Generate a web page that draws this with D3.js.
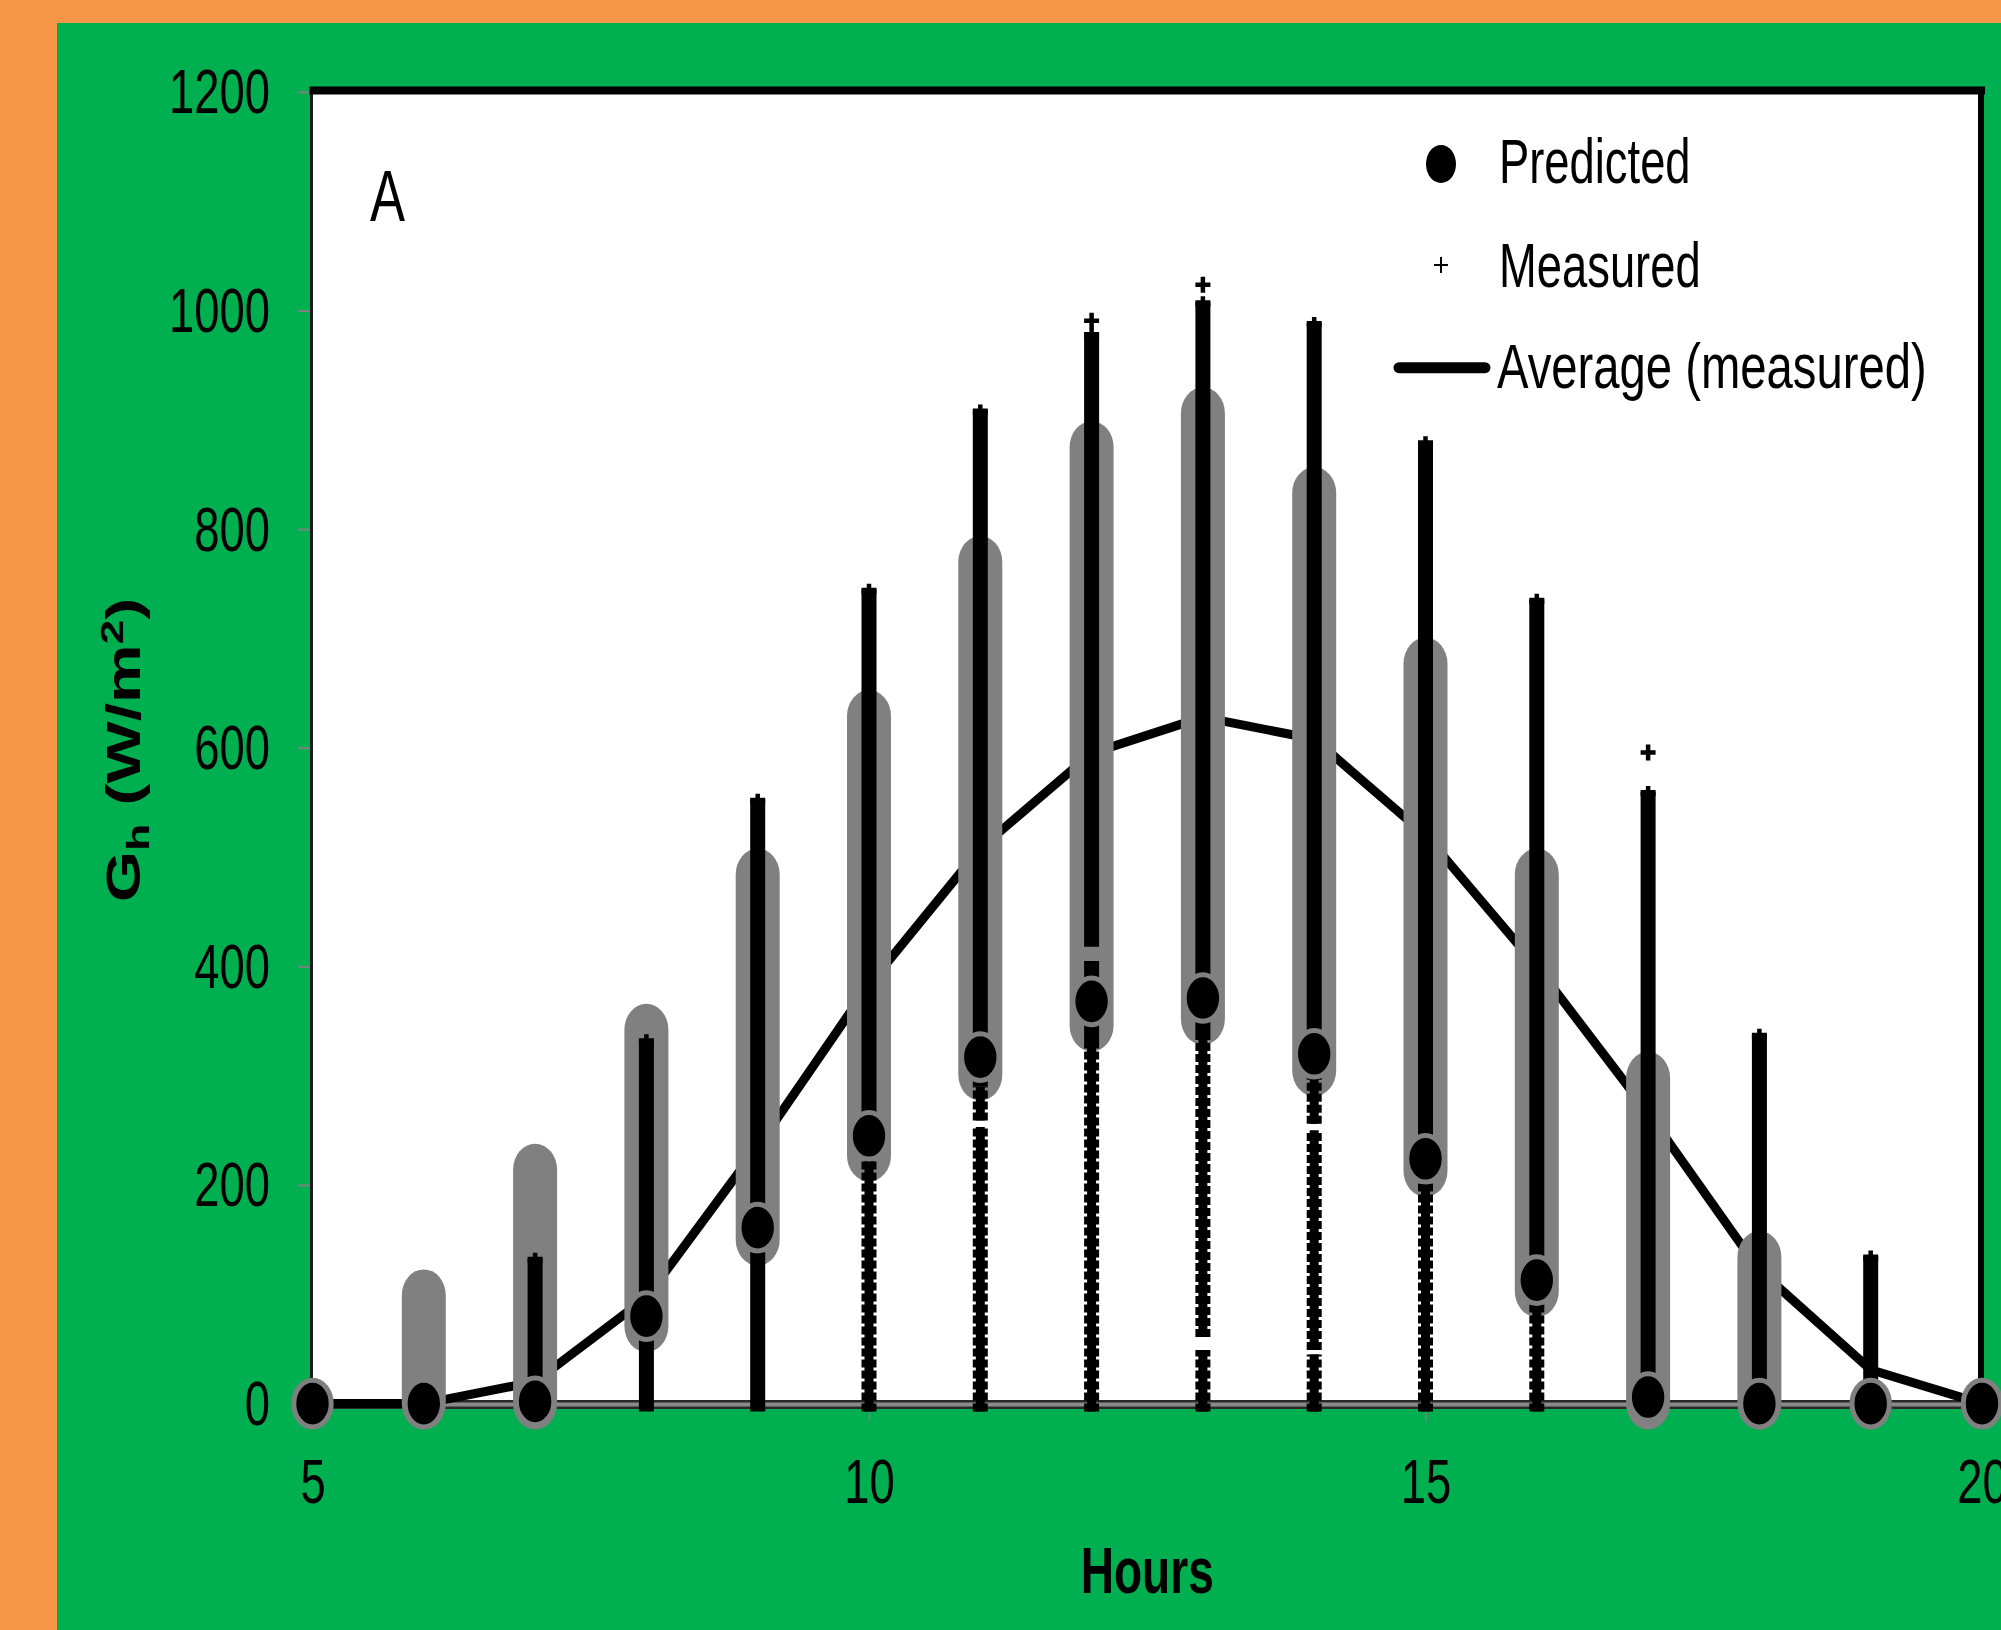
<!DOCTYPE html>
<html>
<head>
<meta charset="utf-8">
<script src="https://cdn.jsdelivr.net/npm/d3@7/dist/d3.min.js"></script>
<style>
  html, body { margin: 0; padding: 0; background: #F79646; overflow: hidden; }
  svg { display: block; }
</style>
</head>
<body>
<svg id="chart" width="2001" height="1630"></svg>
<script>
// ---------------- data ----------------
const hours = [5, 6, 7, 8, 9, 10, 11, 12, 13, 14, 15, 16, 17, 18, 19, 20];
const predicted      = [0, 0, 2, 80, 161, 245, 317, 368, 371, 320, 224, 113, 6, 0, 0, 0];
const predictedLow   = [0, 0, 0, 71, 150, 227, 301, 346, 352, 305, 213, 103, 0, 0, 0, 0];
const predictedHigh  = [0, 99, 214, 342, 484, 629, 770, 875, 906, 833, 677, 484, 298, 134, 0, 0];
const averageMeasured = [0, 0, 20, 97, 235, 383, 508, 595, 628, 608, 520, 400, 266, 122, 31, 0];
const measuredTop    = [0, 8, 138, 338, 558, 750, 914, 984, 1013, 994, 885, 741, 565, 343, 140, 0];
const measuredSparseBelow = [0, 0, 0, 0, 0, 230, 290, 330, 340, 300, 210, 100, 0, 0, 0, 0];
const outlierHours  = [12, 13, 17];
const outlierValues = [998, 1031, 603];
const gapHours = [11, 12, 13, 14, 14];
const gapLow   = [253, 405, 49, 250, 45];
const gapHigh  = [259, 418, 61, 256, 49];
const yTicks = [0, 200, 400, 600, 800, 1000, 1200];
const xTicks = [5, 10, 15, 20];
const legendLabels = ["Predicted", "Measured", "Average (measured)"];
const xTitle = "Hours";
const panelLabel = "A";

// ---------------- layout ----------------
const svg = d3.select("#chart");
const FONT = "'Liberation Sans', Arial, Helvetica, sans-serif";
const SX = 0.72; // horizontal squeeze of the original picture

const x = d3.scaleLinear().domain([5, 20]).range([312.5, 1982]);
const y = d3.scaleLinear().domain([0, 1200]).range([1403.6, 91.9]);

// backgrounds
svg.append("rect").attr("x", 0).attr("y", 0).attr("width", 2001).attr("height", 1630).attr("fill", "#F79646");
svg.append("rect").attr("x", 57).attr("y", 23).attr("width", 1944).attr("height", 1607).attr("fill", "#00AF50");
svg.append("rect").attr("x", x(5)).attr("y", y(1200)).attr("width", x(20) - x(5)).attr("height", y(0) - y(1200)).attr("fill", "#ffffff");

// frame
const frame = svg.append("g");
frame.append("line").attr("x1", x(5) - 1).attr("x2", x(5) - 1).attr("y1", y(1200) - 2).attr("y2", y(0))
  .attr("stroke", "#1a1a1a").attr("stroke-width", 3);
frame.append("line").attr("x1", x(5) - 3).attr("x2", x(20) + 3).attr("y1", y(1200) - 1.5).attr("y2", y(1200) - 1.5)
  .attr("stroke", "#000").attr("stroke-width", 8);
frame.append("line").attr("x1", x(20) - 1).attr("x2", x(20) - 1).attr("y1", y(1200) - 5).attr("y2", y(0))
  .attr("stroke", "#000").attr("stroke-width", 6);

// axes
const yAxis = svg.append("g").attr("transform", `translate(${x(5)},0)`)
  .call(d3.axisLeft(y).tickValues(yTicks).tickSize(14).tickFormat(d3.format("d")));
yAxis.select(".domain").remove();
yAxis.selectAll(".tick line").attr("stroke", "#808080").attr("stroke-width", 2);
yAxis.selectAll(".tick text")
  .attr("x", null).attr("dy", null)
  .attr("transform", `translate(-42.5,21) scale(${SX},1)`)
  .attr("text-anchor", "end")
  .attr("font-family", FONT).attr("font-size", 63).attr("fill", "#000");

const xAxis = svg.append("g").attr("transform", `translate(0,${y(0)})`)
  .call(d3.axisBottom(x).tickValues(xTicks).tickSize(18).tickFormat(d3.format("d")));
xAxis.select(".domain").remove();
xAxis.selectAll(".tick line").attr("stroke", "#808080").attr("stroke-width", 1.5);
xAxis.selectAll(".tick text")
  .attr("y", null).attr("dy", null)
  .attr("transform", `translate(0,99.5) scale(${SX},1)`)
  .attr("text-anchor", "middle")
  .attr("font-family", FONT).attr("font-size", 63).attr("fill", "#000");

// bottom axis line (double line look)
frame.append("line").attr("x1", x(5) - 3).attr("x2", x(20) + 3).attr("y1", y(0) + 1).attr("y2", y(0) + 1)
  .attr("stroke", "#2a2a2a").attr("stroke-width", 9);
frame.append("line").attr("x1", x(5) - 3).attr("x2", x(20) + 3).attr("y1", y(0) + 1).attr("y2", y(0) + 1)
  .attr("stroke", "#8a8a8a").attr("stroke-width", 4);
svg.node().appendChild(frame.node());

// average line
const avgData = hours.map((h, i) => [h, averageMeasured[i]]);
svg.append("path").datum(avgData)
  .attr("d", d3.line().x(d => x(d[0])).y(d => y(d[1])))
  .attr("fill", "none").attr("stroke", "#000").attr("stroke-width", 9)
  .attr("stroke-linejoin", "round").attr("stroke-linecap", "round");

// gray predicted ranges
const CAPW = 22, CAPH = 26;
svg.append("g").selectAll("rect").data(hours.map((h, i) => ({ h, lo: predictedLow[i], hi: predictedHigh[i] })).filter(d => d.hi > d.lo))
  .join("rect")
  .attr("x", d => x(d.h) - CAPW).attr("width", CAPW * 2)
  .attr("y", d => y(d.hi) - CAPH).attr("height", d => y(d.lo) - y(d.hi) + CAPH * 2)
  .attr("rx", CAPW).attr("ry", CAPH)
  .attr("fill", "#808080");

// measured columns
const COLW = 15;
const mg = svg.append("g");
hours.forEach((h, i) => {
  const top = measuredTop[i];
  if (top <= 0) return;
  // split [0, top] by gaps
  let segs = [[0, top]];
  gapHours.forEach((gh, k) => {
    if (gh !== h) return;
    const out = [];
    segs.forEach(([a, b]) => {
      if (gapHigh[k] <= a || gapLow[k] >= b) { out.push([a, b]); return; }
      if (gapLow[k] > a) out.push([a, gapLow[k]]);
      if (gapHigh[k] < b) out.push([gapHigh[k], b]);
    });
    segs = out;
  });
  const sb = measuredSparseBelow[i];
  segs.forEach(([a, b]) => {
    const y1 = a === 0 ? y(0) + 8 : y(a);
    const y2 = b === top ? y(b) + 4 : y(b);
    // sparse (lower) part
    if (sb > a) {
      const ys = Math.max(y(Math.min(sb, b)), y2);
      mg.append("line").attr("x1", x(h)).attr("x2", x(h)).attr("y1", y1).attr("y2", ys)
        .attr("stroke", "#000").attr("stroke-width", 9);
      mg.append("line").attr("x1", x(h)).attr("x2", x(h)).attr("y1", y1).attr("y2", ys)
        .attr("stroke", "#000").attr("stroke-width", COLW).attr("stroke-dasharray", "8 3");
    }
    if (b > sb) {
      const yd = sb > a ? y(sb) : y1;
      mg.append("line").attr("x1", x(h)).attr("x2", x(h)).attr("y1", yd).attr("y2", y2)
        .attr("stroke", "#000").attr("stroke-width", COLW);
    }
  });
  // top plus marker
  mg.append("path").attr("transform", `translate(${x(h)},${y(top) + 8})`)
    .attr("d", "M-7.5,0H7.5M0,-8V8").attr("stroke", "#000").attr("stroke-width", 4.5).attr("fill", "none");
});
// isolated measured points
mg.selectAll("path.outlier").data(outlierHours.map((h, k) => ({ h, v: outlierValues[k] })))
  .join("path").attr("class", "outlier")
  .attr("transform", d => `translate(${x(d.h)},${y(d.v) + 8})`)
  .attr("d", "M-7.5,0H7.5M0,-8V8").attr("stroke", "#000").attr("stroke-width", 4.5).attr("fill", "none");

// predicted markers
svg.append("g").selectAll("ellipse").data(hours.map((h, i) => ({ h, v: predicted[i] })))
  .join("ellipse")
  .attr("cx", d => x(d.h)).attr("cy", d => y(d.v))
  .attr("rx", 18.7).attr("ry", 23.3)
  .attr("fill", "#000").attr("stroke", "#808080").attr("stroke-width", 5);

// legend
const lg = svg.append("g");
lg.append("ellipse").attr("cx", 1441).attr("cy", 164).attr("rx", 15).attr("ry", 19).attr("fill", "#000");
lg.append("path").attr("transform", "translate(1441,265)").attr("d", "M-7,0H7M0,-8V8")
  .attr("stroke", "#000").attr("stroke-width", 2).attr("fill", "none");
lg.append("line").attr("x1", 1399).attr("x2", 1485).attr("y1", 367.7).attr("y2", 367.7)
  .attr("stroke", "#000").attr("stroke-width", 11).attr("stroke-linecap", "round");
const legendPos = [[1499, 183.3], [1499, 287.3], [1497, 388.3]];
legendLabels.forEach((t, i) => {
  lg.append("text").attr("transform", `translate(${legendPos[i][0]},${legendPos[i][1]}) scale(${SX + (i === 2 ? 0.03 : 0)},1)`)
    .attr("font-family", FONT).attr("font-size", 63).attr("fill", "#000").text(t);
});

// panel label
svg.append("text").attr("transform", `translate(370,220.7) scale(${SX},1)`)
  .attr("font-family", FONT).attr("font-size", 73).attr("fill", "#000").text(panelLabel);

// axis titles
svg.append("text").attr("transform", `translate(${(x(5) + x(20)) / 2},1593) scale(${SX},1)`)
  .attr("text-anchor", "middle").attr("font-family", FONT).attr("font-size", 64)
  .attr("font-weight", "bold").attr("fill", "#000").text(xTitle);

const yt = svg.append("text").attr("transform", `translate(140,750) scale(${SX},1) rotate(-90)`)
  .attr("text-anchor", "middle").attr("font-family", FONT).attr("font-size", 66)
  .attr("font-weight", "bold").attr("fill", "#000");
yt.append("tspan").text("G");
yt.append("tspan").attr("dy", 12).attr("font-size", 44).text("h");
yt.append("tspan").attr("dy", -12).text(" (W/m");
yt.append("tspan").attr("dy", -24).attr("font-size", 44).text("2");
yt.append("tspan").attr("dy", 24).text(")");
</script>
</body>
</html>
